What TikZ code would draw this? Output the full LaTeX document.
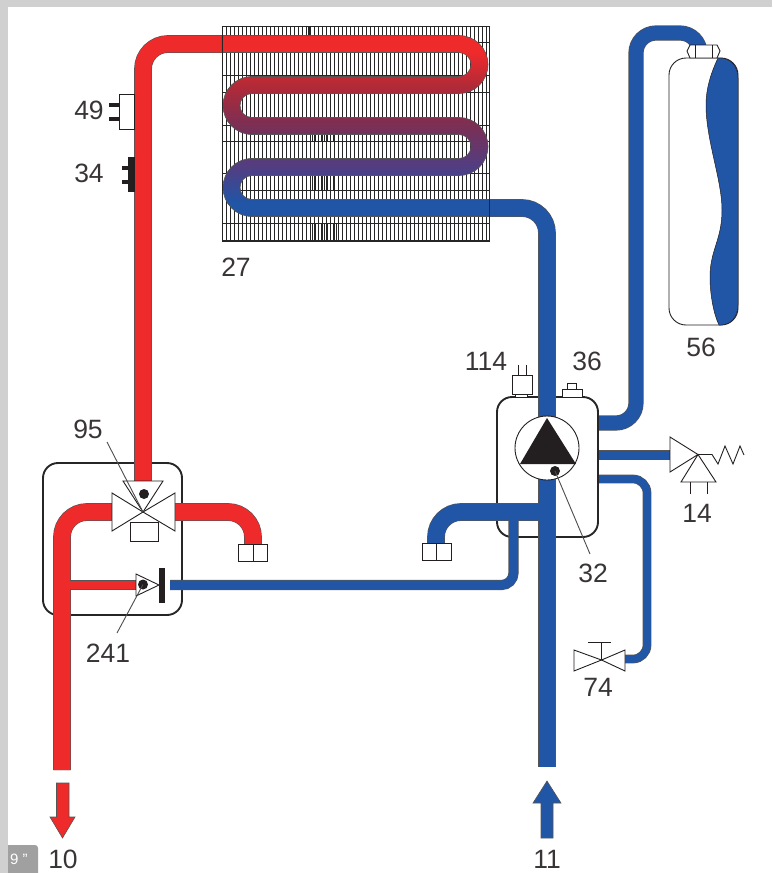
\documentclass[tikz,border=0pt]{standalone}
\usepackage{fontspec}
\setmainfont{Liberation Sans}
\usetikzlibrary{arrows}
\definecolor{hotred}{HTML}{EE2A2B}
\definecolor{coldblue}{HTML}{2155A5}
\definecolor{pipeedge}{HTML}{555555}
\definecolor{inkgray}{HTML}{231F20}
\definecolor{framegray}{HTML}{D0D0D0}
\definecolor{chipgray}{HTML}{A0A0A0}
\definecolor{coilA}{HTML}{4F3F85}
\definecolor{coilB}{HTML}{7A2F55}
\definecolor{coilC}{HTML}{B02A38}
\pgfdeclareverticalshading{coilshade}{100bp}{color(0bp)=(coldblue); color(29bp)=(coldblue);
  color(38bp)=(coilA); color(50bp)=(coilB); color(61bp)=(coilC);
  color(70bp)=(hotred); color(100bp)=(hotred)}
\tikzset{
  pipe/.style={draw=pipeedge,line width=.6pt,double=#1,double distance=16.5pt},
  lbl/.style={font=\fontsize{26.5}{30}\selectfont,text=inkgray!90,inner sep=0pt},
  part/.style={draw=inkgray,fill=white,line width=.9pt},
  hull/.style={draw=black!85,fill=white,line width=1.9pt,rounded corners=15pt},
  fin/.style={draw=black!85,line width=1.1pt},
  thinline/.style={draw=inkgray,line width=.9pt},
  leader/.style={draw=inkgray!80,line width=.9pt}
}
\begin{document}
\begin{tikzpicture}[x=1pt,y=1pt,yscale=-1]
  \useasboundingbox (0,0) rectangle (772,873);
  \fill[chipgray,rounded corners=3pt] (0,845) rectangle (38,880);
  \node[font=\fontsize{15}{15}\selectfont,text=white,inner sep=0pt] (chiptxt) at (19,859) {9 "};
  \fill[framegray] (0,0) rectangle (772,7);
  \fill[framegray] (0,0) rectangle (8,873);
  % radiator
  \foreach \finx in {0,...,66} \draw[fin] (222.5+4*\finx,26) -- (222.5+4*\finx,241);
  \foreach \finy in {26,42,75,92,125,141,173,190,223,240} \draw[fin,line width=.8pt] (222,\finy) -- (489,\finy);
  \foreach \finx in {312.5,315.5,...,336} \draw[fin] (\finx,135) -- (\finx,141);
  \foreach \finx in {312.5,315.5,...,336} \draw[fin] (\finx,176) -- (\finx,190);
  \foreach \finx in {312.5,315.5,...,339} \draw[fin] (\finx,224) -- (\finx,240);
  \draw[fin,line width=2pt] (309,26) -- (309,35);
  % housings
  \draw[hull] (43,463) rectangle (182,615);
  \draw[hull] (497,397) rectangle (598,537);
  % hot side
  \draw[pipe=hotred,rounded corners=25pt] (143,481) -- (143,44) -- (224,44);
  \shade[shading=coilshade,draw=pipeedge,line width=.6pt]
     (222,35.5) -- (459,35.5) arc(-90:90:29) -- (252,93.5) arc(270:90:12) -- (459,117.5) arc(-90:90:29)
     -- (252,175.5) arc(270:90:12) -- (490,199.5) -- (490,216.5) -- (252,216.5) arc(90:270:29)
     -- (459,158.5) arc(90:-90:12) -- (252,134.5) arc(90:270:29) -- (459,76.5) arc(90:-90:12)
     -- (222,52.5) -- cycle;
  \draw[pipe=hotred,rounded corners=25pt] (62,770) -- (62,512) -- (113,512);
  \draw[pipe=hotred,rounded corners=25pt] (174,512) -- (253,512) -- (253,545);
  \draw[pipe=hotred,double distance=8pt] (69.5,585) -- (137,585);
  % cold side
  \draw[pipe=coldblue,rounded corners=25pt] (488,208) -- (547,208) -- (547,420);
  \draw[pipe=coldblue] (547,470) -- (547,767);
  \draw[pipe=coldblue,rounded corners=25pt] (539,512) -- (436,512) -- (436,544);
  \draw[pipe=coldblue,double distance=9pt,rounded corners=12pt] (170,585) -- (513.5,585) -- (513.5,520);
  \draw[pipe=coldblue,double distance=14pt,rounded corners=20pt] (599,423) -- (636,423) -- (636,33) -- (700,33) -- (700,46);
  \draw[pipe=coldblue,double distance=9pt] (599,455) -- (671,455);
  \draw[pipe=coldblue,double distance=7.5pt,rounded corners=14pt] (599,479) -- (647,479) -- (647,659) -- (624,659);
  % radiator outline
  \draw[fin,line width=.8pt] (222,26) rectangle (489,241);
  % sensors on the flow pipe
  \draw[part] (119,94) rectangle (134,129);
  \fill[inkgray] (109,103) rectangle (119,107);
  \fill[inkgray] (109,117) rectangle (119,121);
  \fill[inkgray] (128,157) rectangle (134.5,192);
  \fill[inkgray] (122,166) rectangle (128,170);
  \fill[inkgray] (122,180) rectangle (128,184);
  % three way valve
  \draw[part] (130,522) rectangle (158,541);
  \draw[part] (123,481) -- (163,481) -- (143,512) -- cycle;
  \draw[part] (112,493) -- (112,531) -- (143,512) -- cycle;
  \draw[part] (175,493) -- (175,531) -- (143,512) -- cycle;
  \coordinate (dotvalve) at (144,494);
  \fill[inkgray] (dotvalve) circle(5);
  % bypass
  \draw[part] (136,574) -- (159,585) -- (136,596) -- cycle;
  \coordinate (dotbypass) at (143,584.5);
  \fill[inkgray] (dotbypass) circle(5);
  \fill[inkgray] (159,568) rectangle (165,603);
  % fittings
  \draw[part] (238,544) rectangle (267,561);
  \draw[part] (253,544) -- (253,561);
  \draw[part] (422,543) rectangle (451,560);
  \draw[part] (436,543) -- (436,560);
  % pump
  \draw[part] (547,448) circle(32);
  \fill[inkgray] (547,418) -- (576,464) -- (520,464) -- cycle;
  \coordinate (dotpump) at (555,471);
  \fill[inkgray] (dotpump) circle(5);
  % pressure switch and air vent
  \draw[part] (515,394) rectangle (527,397);
  \draw[part] (512,375) rectangle (532,394);
  \draw[thinline] (518,365) -- (518,375);
  \draw[thinline] (526,365) -- (526,375);
  \draw[part] (562,389) rectangle (582,397);
  \draw[part] (567,383) rectangle (576,389);
  % safety valve
  \draw[part] (670,437) -- (670,472) -- (698,454.5) -- cycle;
  \draw[part] (698,454.5) -- (716,482) -- (681,482) -- cycle;
  \draw[thinline] (690,482) -- (690,494);
  \draw[thinline] (707,482) -- (707,494);
  \draw[thinline] (698,454.5) -- (712,454.5) -- (718,464) -- (725,446) -- (733,464) -- (740,446) -- (744,455);
  % drain valve
  \draw[part] (574,650) -- (574,671) -- (601.5,660) -- cycle;
  \draw[part] (625,650) -- (625,671) -- (601.5,660) -- cycle;
  \draw[thinline] (601.5,660) -- (601.5,642);
  \draw[thinline] (588,642) -- (611,642);
  % expansion vessel
  \draw[inkgray,fill=white,line width=.9pt,rounded corners=17pt] (669,58) rectangle (738,325);
  \fill[coldblue,draw=inkgray,line width=.5pt] (718,58) .. controls (710,75) and (706,90) .. (706,105)
     .. controls (706,140) and (722,180) .. (722,210) .. controls (722,240) and (710,250) .. (710,277)
     .. controls (710,295) and (714,315) .. (719,325) -- (721,325) .. controls (732,325) and (738,315) .. (738,305)
     -- (738,78) .. controls (738,66) and (730,58) .. (720,58) -- cycle;
  \draw[part] (690,45) -- (717,45) -- (720,51) -- (717,58) -- (690,58) -- (687,51) -- cycle;
  \draw[thinline] (695,45) -- (695,58);
  \draw[thinline] (712,45) -- (712,58);
  % arrows
  \fill[hotred,draw=pipeedge,line width=.6pt] (56.5,783) -- (69,783) -- (69,817) -- (75,817) -- (62.5,838) -- (50,817) -- (56.5,817) -- cycle;
  \fill[coldblue,draw=pipeedge,line width=.6pt] (541,838) -- (553,838) -- (553,803) -- (561,803) -- (547,781) -- (533,803) -- (541,803) -- cycle;
  % labels
  \node[lbl] (l49) at (89,110) {49};
  \node[lbl] (l34) at (89,173) {34};
  \node[lbl] (l27) at (236,267) {27};
  \node[lbl] (l95) at (88,429) {95};
  \node[lbl] (l241) at (108,653) {241};
  \node[lbl] (l114) at (486,361) {114};
  \node[lbl] (l36) at (587,361) {36};
  \node[lbl] (l56) at (701,347) {56};
  \node[lbl] (l14) at (697,513) {14};
  \node[lbl] (l32) at (593,573) {32};
  \node[lbl] (l74) at (598,687) {74};
  \node[lbl] (l10) at (63,859) {10};
  \node[lbl] (l11) at (547,859) {11};
  % leaders
  \coordinate (end95) at (107,442);
  \coordinate (valvemid) at (143,512);
  \coordinate (end241) at (117,633);
  \coordinate (end32) at (590,554);
  \draw[leader] (end95) -- (valvemid);
  \draw[leader] (end241) -- (dotbypass);
  \draw[leader] (end32) -- (dotpump);
\end{tikzpicture}
\end{document}
